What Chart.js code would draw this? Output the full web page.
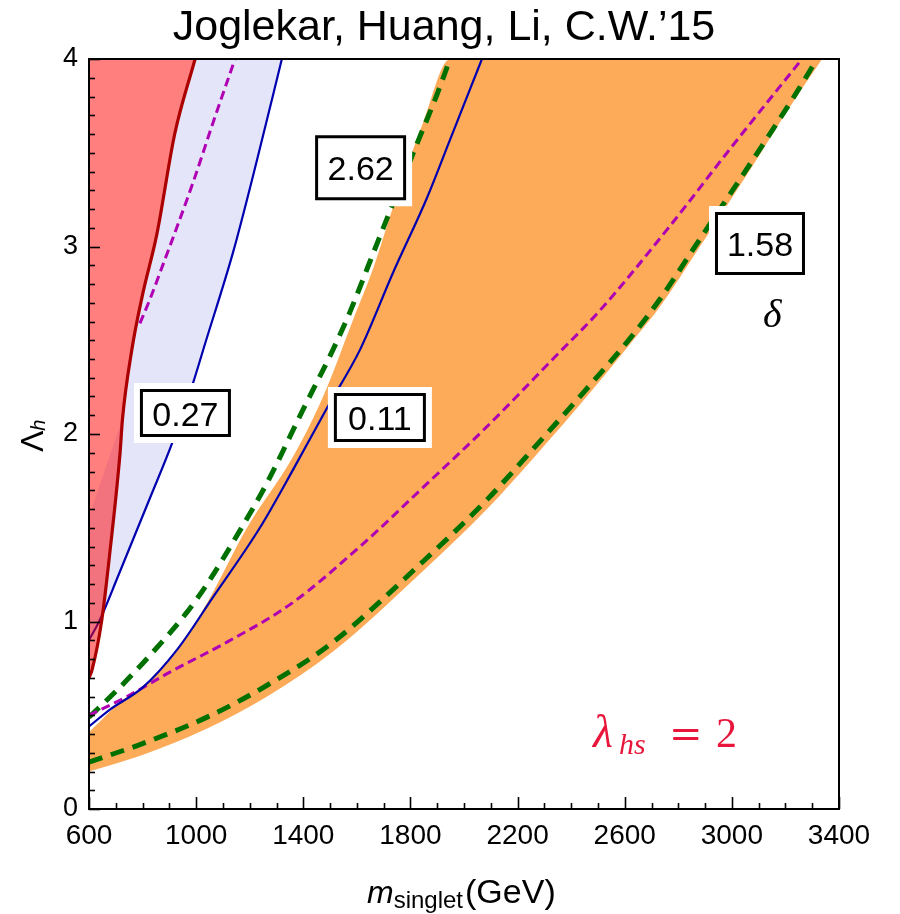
<!DOCTYPE html>
<html>
<head>
<meta charset="utf-8">
<script src="https://cdn.jsdelivr.net/npm/chart.js@4.4.1/dist/chart.umd.min.js"></script>
<style>
  html, body { margin: 0; padding: 0; background: #fff; }
  #wrap { width: 900px; height: 914px; }
</style>
</head>
<body>
<div id="wrap"><canvas id="chart" width="900" height="914"></canvas></div>
<script>
// Curves. x: m_singlet (GeV), y: lambda_h

// red boundary (thick dark red line, region to its left is excluded)
const redX = [600, 611, 648, 678, 716, 725, 760, 798, 854, 920, 996];
const redY = [0.70, 0.74, 1.01, 1.37, 1.90, 2.08, 2.45, 2.73, 3.07, 3.60, 4.00];

// left edge of the lavender band
const lavX = [600, 600, 725, 760, 798, 854, 920, 996, 1320];
const lavY = [0.90, 1.56, 2.08, 2.45, 2.73, 3.07, 3.60, 4.00, 4.00];

// blue solid contour, left one (0.27)
const blueLX = [600, 641, 708, 828, 910, 988, 1033, 1138, 1227, 1320];
const blueLY = [0.90, 1.01, 1.24, 1.66, 1.95, 2.27, 2.48, 2.97, 3.46, 4.00];

// magenta dashed, left one
const magLX = [790, 828, 865, 988, 1063, 1145];
const magLY = [2.59, 2.72, 2.86, 3.34, 3.66, 4.00];

// orange band edges
const orUpX = [600, 742, 802, 929, 1041, 1190, 1362, 1474, 1586, 1660, 1735, 1847, 1948, 3340];
const orUpY = [0.41, 0.60, 0.65, 0.85, 1.10, 1.50, 1.88, 2.20, 2.61, 2.88, 3.21, 3.66, 4.00, 4.00];
const orLoX = [600, 802, 1041, 1265, 1511, 1847, 2086, 2258, 2482, 2620, 2732, 2881, 3068, 3228, 3337];
const orLoY = [0.20, 0.29, 0.43, 0.60, 0.84, 1.27, 1.60, 1.87, 2.24, 2.48, 2.68, 3.00, 3.41, 3.77, 4.00];

// blue solid contour, right one (0.11)
const blueRX = [600, 678, 802, 929, 1063, 1238, 1362, 1489, 1612, 1735, 1862, 1948, 2067];
const blueRY = [0.44, 0.53, 0.65, 0.85, 1.13, 1.50, 1.81, 2.14, 2.45, 2.86, 3.26, 3.57, 4.00];

// magenta dashed, right one
const magRX = [600, 742, 902, 1115, 1350, 1612, 1836, 2086, 2332, 2508, 2758, 3004, 3262];
const magRY = [0.50, 0.60, 0.73, 0.89, 1.09, 1.40, 1.70, 2.04, 2.40, 2.66, 3.09, 3.54, 4.00];

// green dashed contours (2.62 and 1.58)
const grUpX = [600, 716, 828, 966, 1041, 1153, 1265, 1399, 1511, 1574, 1649, 1735, 1825, 1899, 1948];
const grUpY = [0.49, 0.65, 0.82, 1.05, 1.20, 1.46, 1.74, 2.13, 2.45, 2.65, 2.92, 3.23, 3.55, 3.81, 4.00];
const grLoX = [600, 802, 1041, 1265, 1511, 1847, 2086, 2258, 2482, 2620, 2732, 2881, 3068, 3228, 3318];
const grLoY = [0.25, 0.35, 0.49, 0.66, 0.89, 1.32, 1.65, 1.92, 2.28, 2.51, 2.72, 3.04, 3.44, 3.79, 4.00];

// contour value labels
const boxTexts = ['2.62', '0.27', '0.11', '1.58'];

function pts(xs, ys) {
    return xs.map((x, i) => ({ x: x, y: ys[i] }));
}

const ORANGE = 'rgb(253,171,89)';
const LAVENDER = 'rgb(229,229,250)';
const BLUE = 'rgb(0,0,175)';
const MAGENTA = 'rgb(175,0,180)';
const GREEN = 'rgb(0,112,0)';

// inward ticks + frame
const frameTicks = {
    id: 'frameTicks',
    afterDraw(chart) {
        const { ctx, chartArea: a, scales: { x, y } } = chart;
        ctx.save();
        ctx.strokeStyle = '#000';
        ctx.lineWidth = 1.6;
        for (let v = 600; v <= 3400; v += 100) {
            const px = Math.round(x.getPixelForValue(v)) + 0.5;
            const len = (v - 600) % 400 === 0 ? 12 : 6;
            ctx.beginPath();
            ctx.moveTo(px, a.bottom);
            ctx.lineTo(px, a.bottom - len);
            ctx.stroke();
        }
        for (let i = 0; i <= 40; i++) {
            const py = Math.round(y.getPixelForValue(i / 10)) + 0.5;
            const len = i % 10 === 0 ? 11 : 6;
            ctx.beginPath();
            ctx.moveTo(a.left, py);
            ctx.lineTo(a.left + len, py);
            ctx.stroke();
        }
        ctx.lineWidth = 2;
        ctx.strokeRect(a.left, a.top, a.right - a.left, a.bottom - a.top);
        ctx.restore();
    }
};

// boxed contour labels, white padding cuts through the fills
const contourLabels = {
    id: 'contourLabels',
    afterDatasetsDraw(chart) {
        const { ctx, scales: { x, y } } = chart;
        const spots = [
            { x: 1614, y: 3.42, w: 91, h: 65 },
            { x: 960, y: 2.112, w: 91, h: 48 },
            { x: 1686, y: 2.088, w: 92, h: 49 },
            { x: 3105, y: 3.016, w: 90, h: 63 }
        ];
        ctx.save();
        spots.forEach((s, i) => {
            const cx = x.getPixelForValue(s.x);
            const cy = y.getPixelForValue(s.y);
            ctx.fillStyle = '#fff';
            ctx.fillRect(cx - s.w / 2 - 6, cy - s.h / 2 - 6, s.w + 12, s.h + 12);
            ctx.strokeStyle = '#000';
            ctx.lineWidth = 3;
            ctx.strokeRect(cx - s.w / 2 + 1.5, cy - s.h / 2 + 1.5, s.w - 3, s.h - 3);
            ctx.fillStyle = '#000';
            ctx.font = '34px "Liberation Sans", Arial, sans-serif';
            ctx.textAlign = 'center';
            ctx.textBaseline = 'alphabetic';
            ctx.fillText(boxTexts[i], cx, cy + 12.5);
        });
        ctx.restore();
    }
};

// title, axis titles and the math annotations
const texts = {
    id: 'texts',
    afterDraw(chart) {
        const ctx = chart.ctx;
        ctx.save();
        ctx.fillStyle = '#000';
        ctx.textBaseline = 'alphabetic';

        ctx.font = '43px "Liberation Sans", Arial, sans-serif';
        ctx.textAlign = 'center';
        ctx.fillText('Joglekar, Huang, Li, C.W.\u201915', 444, 40);

        // x title: m_singlet(GeV)
        ctx.textAlign = 'left';
        let xx = 367;
        ctx.font = 'italic 32px "Liberation Sans", Arial, sans-serif';
        ctx.fillText('m', xx, 903);
        xx += ctx.measureText('m').width;
        ctx.font = '24px "Liberation Sans", Arial, sans-serif';
        ctx.fillText('singlet', xx, 908);
        xx += ctx.measureText('singlet').width + 2;
        ctx.font = '34px "Liberation Sans", Arial, sans-serif';
        ctx.fillText('(GeV)', xx, 903);

        // y title: Lambda_h
        ctx.save();
        ctx.translate(43, 436);
        ctx.rotate(-Math.PI / 2);
        ctx.font = '32px "Liberation Sans", Arial, sans-serif';
        ctx.fillText('\u039B', -16, 0);
        const lw = ctx.measureText('\u039B').width;
        ctx.font = 'italic 20px "Liberation Sans", Arial, sans-serif';
        ctx.fillText('h', -16 + lw, 2);
        ctx.restore();

        // delta
        ctx.font = 'italic 40px "Liberation Serif", "Times New Roman", serif';
        ctx.fillText('\u03B4', 763, 327);

        // lambda_hs = 2
        ctx.fillStyle = 'rgb(232,22,58)';
        ctx.font = 'italic 46px "Liberation Serif", serif';
        ctx.fillText('\u03BB', 593, 747);
        ctx.font = 'italic 30px "Liberation Serif", serif';
        ctx.fillText('hs', 619, 754);
        ctx.font = '40px "DejaVu Serif", serif';
        ctx.fillText('=', 669, 747);
        ctx.font = '42px "Liberation Serif", serif';
        ctx.fillText('2', 716, 747);
        ctx.restore();
    }
};

const lineBase = { pointRadius: 0, pointHoverRadius: 0, fill: false, cubicInterpolationMode: 'monotone' };

const chart = new Chart(document.getElementById('chart').getContext('2d'), {
    type: 'line',
    data: {
        datasets: [
            // 0, 1: orange band
            Object.assign({}, lineBase, { data: pts(orUpX, orUpY), borderWidth: 0, borderColor: 'rgba(0,0,0,0)', backgroundColor: ORANGE, fill: 1, order: 10 }),
            Object.assign({}, lineBase, { data: pts(orLoX, orLoY), borderWidth: 0, borderColor: 'rgba(0,0,0,0)', order: 10 }),
            // 2: lavender band up to the left blue line (3)
            Object.assign({}, lineBase, { data: pts(lavX, lavY), borderWidth: 0, borderColor: 'rgba(0,0,0,0)', backgroundColor: LAVENDER, fill: 3, order: 9, cubicInterpolationMode: 'default', tension: 0 }),
            Object.assign({}, lineBase, { data: pts(blueLX, blueLY), borderColor: BLUE, borderWidth: 2.2, order: 8.5 }),
            // 4: red excluded region
            Object.assign({}, lineBase, { data: pts(redX, redY), borderColor: 'rgb(170,0,0)', borderWidth: 3.2, backgroundColor: 'rgba(255,0,0,0.5)', fill: 'end', order: 8 }),
            Object.assign({}, lineBase, { data: pts(magLX, magLY), borderColor: MAGENTA, borderWidth: 3, borderDash: [9, 5], order: 1 }),
            Object.assign({}, lineBase, { data: pts(blueRX, blueRY), borderColor: BLUE, borderWidth: 2.2, order: 1 }),
            Object.assign({}, lineBase, { data: pts(magRX, magRY), borderColor: MAGENTA, borderWidth: 3, borderDash: [9, 5], order: 1 }),
            Object.assign({}, lineBase, { data: pts(grUpX, grUpY), borderColor: GREEN, borderWidth: 5, borderDash: [14, 9], order: 1 }),
            Object.assign({}, lineBase, { data: pts(grLoX, grLoY), borderColor: GREEN, borderWidth: 5, borderDash: [14, 9], order: 1 })
        ]
    },
    options: {
        responsive: false,
        animation: false,
        devicePixelRatio: 1,
        layout: { padding: { top: 59, right: 61, left: 0, bottom: 0 } },
        plugins: {
            legend: { display: false },
            tooltip: { enabled: false },
            title: { display: false }
        },
        scales: {
            x: {
                type: 'linear',
                min: 600,
                max: 3400,
                grid: { display: false, drawTicks: false },
                border: { display: false },
                ticks: {
                    stepSize: 400,
                    autoSkip: false,
                    maxRotation: 0,
                    padding: 10,
                    color: '#000',
                    font: { family: '"Liberation Sans", Arial, sans-serif', size: 28 },
                    callback: function (value) { return String(value); }
                },
                afterFit: function (scale) { scale.height = 105; }
            },
            y: {
                type: 'linear',
                min: 0,
                max: 4,
                grid: { display: false, drawTicks: false },
                border: { display: false },
                ticks: {
                    stepSize: 1,
                    padding: 11,
                    color: '#000',
                    font: { family: '"Liberation Sans", Arial, sans-serif', size: 27 },
                    callback: function (value) { return String(value); }
                },
                afterFit: function (scale) { scale.width = 89; }
            }
        }
    },
    plugins: [contourLabels, frameTicks, texts]
});
</script>
</body>
</html>
